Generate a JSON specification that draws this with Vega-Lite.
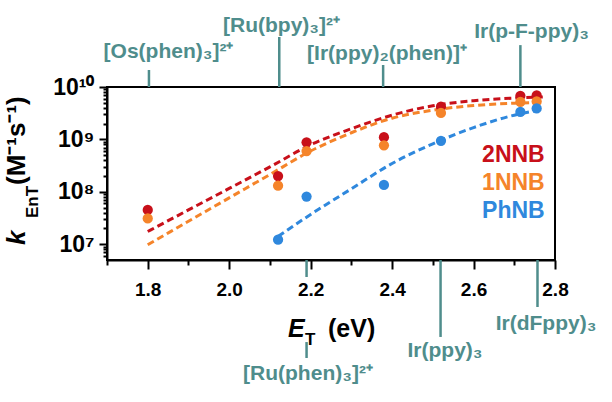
{
  "$schema": "https://vega.github.io/schema/vega-lite/v6.json",
  "width": 448,
  "height": 173,
  "autosize": {"type": "none"},
  "padding": {"left": 107, "top": 87, "right": 57, "bottom": 142},
  "config": {
    "view": {"stroke": "black", "strokeWidth": 2},
    "font": "Liberation Sans",
    "axis": {
      "domainColor": "black",
      "domainWidth": 2,
      "tickColor": "black",
      "tickWidth": 2,
      "grid": false,
      "labelFont": "Liberation Sans",
      "labelFontWeight": "bold",
      "labelColor": "black",
      "labelOverlap": false,
      "labelFlush": false
    },
    "text": {"font": "Liberation Sans", "fontWeight": "bold", "baseline": "alphabetic"}
  },
  "data": {"values": [{}]},
  "datasets": {
    "measured": [
      {"sys": "2NNB", "et": 1.8, "k": 4.5e7},
      {"sys": "2NNB", "et": 2.12, "k": 2.0e8},
      {"sys": "2NNB", "et": 2.19, "k": 8.8e8},
      {"sys": "2NNB", "et": 2.38, "k": 1.1e9},
      {"sys": "2NNB", "et": 2.52, "k": 4.2e9},
      {"sys": "2NNB", "et": 2.715, "k": 6.8e9},
      {"sys": "2NNB", "et": 2.755, "k": 6.9e9},
      {"sys": "1NNB", "et": 1.8, "k": 3.1e7},
      {"sys": "1NNB", "et": 2.12, "k": 1.31e8},
      {"sys": "1NNB", "et": 2.19, "k": 6.0e8},
      {"sys": "1NNB", "et": 2.38, "k": 7.7e8},
      {"sys": "1NNB", "et": 2.52, "k": 3.2e9},
      {"sys": "1NNB", "et": 2.715, "k": 5.2e9},
      {"sys": "1NNB", "et": 2.755, "k": 5.3e9},
      {"sys": "PhNB", "et": 2.12, "k": 1.22e7},
      {"sys": "PhNB", "et": 2.19, "k": 8.1e7},
      {"sys": "PhNB", "et": 2.38, "k": 1.35e8},
      {"sys": "PhNB", "et": 2.52, "k": 9.4e8},
      {"sys": "PhNB", "et": 2.715, "k": 3.35e9},
      {"sys": "PhNB", "et": 2.755, "k": 3.9e9}
    ],
    "fits": [
      {"sys": "2NNB", "et": 1.8, "k": 1.75e7},
      {"sys": "2NNB", "et": 1.9, "k": 4.51e7},
      {"sys": "2NNB", "et": 2.0, "k": 1.16e8},
      {"sys": "2NNB", "et": 2.1, "k": 2.99e8},
      {"sys": "2NNB", "et": 2.2, "k": 7.9e8},
      {"sys": "2NNB", "et": 2.3, "k": 1.6e9},
      {"sys": "2NNB", "et": 2.4, "k": 2.9e9},
      {"sys": "2NNB", "et": 2.5, "k": 4.39e9},
      {"sys": "2NNB", "et": 2.6, "k": 5.47e9},
      {"sys": "2NNB", "et": 2.7, "k": 6.15e9},
      {"sys": "2NNB", "et": 2.77, "k": 6.43e9},
      {"sys": "1NNB", "et": 1.8, "k": 9.8e6},
      {"sys": "1NNB", "et": 1.9, "k": 2.74e7},
      {"sys": "1NNB", "et": 2.0, "k": 7.66e7},
      {"sys": "1NNB", "et": 2.1, "k": 2.14e8},
      {"sys": "1NNB", "et": 2.2, "k": 6.0e8},
      {"sys": "1NNB", "et": 2.3, "k": 1.34e9},
      {"sys": "1NNB", "et": 2.4, "k": 2.54e9},
      {"sys": "1NNB", "et": 2.5, "k": 3.61e9},
      {"sys": "1NNB", "et": 2.6, "k": 4.43e9},
      {"sys": "1NNB", "et": 2.7, "k": 4.9e9},
      {"sys": "1NNB", "et": 2.77, "k": 5.07e9},
      {"sys": "PhNB", "et": 2.12, "k": 1.41e7},
      {"sys": "PhNB", "et": 2.2, "k": 3.7e7},
      {"sys": "PhNB", "et": 2.3, "k": 1.14e8},
      {"sys": "PhNB", "et": 2.4, "k": 3.47e8},
      {"sys": "PhNB", "et": 2.5, "k": 8.25e8},
      {"sys": "PhNB", "et": 2.6, "k": 1.68e9},
      {"sys": "PhNB", "et": 2.7, "k": 2.9e9},
      {"sys": "PhNB", "et": 2.77, "k": 3.72e9}
    ]
  },
  "layer": [
    {
      "data": {"name": "fits"},
      "mark": {"type": "line", "strokeDash": [7, 4], "strokeWidth": 3, "interpolate": "monotone"},
      "encoding": {
        "x": {
          "field": "et",
          "type": "quantitative",
          "scale": {"domain": [1.7, 2.8], "nice": false, "zero": false},
          "axis": {
            "title": null,
            "values": [1.7, 1.8, 1.9, 2.0, 2.1, 2.2, 2.3, 2.4, 2.5, 2.6, 2.7, 2.8],
            "labelExpr": "round(datum.value * 10) % 2 == 0 ? format(datum.value, '.1f') : ''",
            "tickSize": {"condition": {"test": "round(datum.value * 10) % 2 == 0", "value": 9}, "value": 5},
            "labelFontSize": 19,
            "labelPadding": 11
          }
        },
        "y": {
          "field": "k",
          "type": "quantitative",
          "scale": {"type": "log", "domain": [5e6, 1e10], "nice": false},
          "axis": {
            "title": null,
            "values": [6e6, 7e6, 8e6, 9e6, 1e7, 2e7, 3e7, 4e7, 5e7, 6e7, 7e7, 8e7, 9e7, 1e8, 2e8, 3e8, 4e8, 5e8, 6e8, 7e8, 8e8, 9e8, 1e9, 2e9, 3e9, 4e9, 5e9, 6e9, 7e9, 8e9, 9e9, 1e10],
            "labelExpr": "datum.value == 1e10 ? '10¹⁰' : datum.value == 1e9 ? '10⁹' : datum.value == 1e8 ? '10⁸' : datum.value == 1e7 ? '10⁷' : ''",
            "tickSize": {"condition": {"test": "indexof([1e7, 1e8, 1e9, 1e10], datum.value) >= 0", "value": 8}, "value": 4},
            "labelFontSize": 23,
            "labelPadding": 5
          }
        },
        "color": {
          "field": "sys",
          "type": "nominal",
          "scale": {"domain": ["2NNB", "1NNB", "PhNB"], "range": ["#c8101a", "#f5842a", "#2f88dd"]},
          "legend": null
        }
      }
    },
    {
      "data": {"name": "measured"},
      "mark": {"type": "circle", "size": 105, "opacity": 1},
      "encoding": {
        "x": {"field": "et", "type": "quantitative"},
        "y": {"field": "k", "type": "quantitative"},
        "color": {"field": "sys", "type": "nominal", "legend": null}
      }
    },
    {
      "mark": {"type": "text", "fontSize": 23, "align": "left"},
      "encoding": {"x": {"datum": 2.621}, "y": {"datum": 3.76e8}, "text": {"value": "2NNB"}, "color": {"datum": "2NNB", "legend": null}}
    },
    {
      "mark": {"type": "text", "fontSize": 23, "align": "left"},
      "encoding": {"x": {"datum": 2.621}, "y": {"datum": 1.08e8}, "text": {"value": "1NNB"}, "color": {"datum": "1NNB", "legend": null}}
    },
    {
      "mark": {"type": "text", "fontSize": 23, "align": "left"},
      "encoding": {"x": {"datum": 2.621}, "y": {"datum": 3.21e7}, "text": {"value": "PhNB"}, "color": {"datum": "PhNB", "legend": null}}
    },
    {
      "mark": {"type": "rule", "color": "#4f8d8c", "strokeWidth": 2.5},
      "encoding": {"x": {"datum": 1.803}, "y": {"datum": 1e10}, "y2": {"datum": 2.11e10}}
    },
    {
      "mark": {"type": "rule", "color": "#4f8d8c", "strokeWidth": 2.5},
      "encoding": {"x": {"datum": 2.123}, "y": {"datum": 1e10}, "y2": {"datum": 9.0e10}}
    },
    {
      "mark": {"type": "rule", "color": "#4f8d8c", "strokeWidth": 2.5},
      "encoding": {"x": {"datum": 2.378}, "y": {"datum": 1e10}, "y2": {"datum": 2.63e10}}
    },
    {
      "mark": {"type": "rule", "color": "#4f8d8c", "strokeWidth": 2.5},
      "encoding": {"x": {"datum": 2.715}, "y": {"datum": 1e10}, "y2": {"datum": 6.3e10}}
    },
    {
      "mark": {"type": "rule", "color": "#4f8d8c", "strokeWidth": 2.5},
      "encoding": {"x": {"datum": 2.19}, "y": {"datum": 5e6}, "y2": {"datum": 2.37e6}}
    },
    {
      "mark": {"type": "rule", "color": "#4f8d8c", "strokeWidth": 2.5},
      "encoding": {"x": {"datum": 2.19}, "y": {"datum": 1.36e5}, "y2": {"datum": 6.75e4}}
    },
    {
      "mark": {"type": "rule", "color": "#4f8d8c", "strokeWidth": 2.5},
      "encoding": {"x": {"datum": 2.519}, "y": {"datum": 5e6}, "y2": {"datum": 1.7e5}}
    },
    {
      "mark": {"type": "rule", "color": "#4f8d8c", "strokeWidth": 2.5},
      "encoding": {"x": {"datum": 2.757}, "y": {"datum": 5e6}, "y2": {"datum": 6.34e5}}
    },
    {
      "mark": {"type": "text", "fontSize": 21, "color": "#4f8d8c", "align": "center"},
      "encoding": {"x": {"datum": 1.851}, "y": {"datum": 3.57e10}, "text": {"value": "[Os(phen)₃]²⁺"}}
    },
    {
      "mark": {"type": "text", "fontSize": 21, "color": "#4f8d8c", "align": "center"},
      "encoding": {"x": {"datum": 2.1285}, "y": {"datum": 1.12e11}, "text": {"value": "[Ru(bpy)₃]²⁺"}}
    },
    {
      "mark": {"type": "text", "fontSize": 21, "color": "#4f8d8c", "align": "center"},
      "encoding": {"x": {"datum": 2.3875}, "y": {"datum": 3.27e10}, "text": {"value": "[Ir(ppy)₂(phen)]⁺"}}
    },
    {
      "mark": {"type": "text", "fontSize": 21, "color": "#4f8d8c", "align": "center"},
      "encoding": {"x": {"datum": 2.7423}, "y": {"datum": 8.61e10}, "text": {"value": "Ir(p-F-ppy)₃"}}
    },
    {
      "mark": {"type": "text", "fontSize": 21, "color": "#4f8d8c", "align": "center"},
      "encoding": {"x": {"datum": 2.1935}, "y": {"datum": 2.56e4}, "text": {"value": "[Ru(phen)₃]²⁺"}}
    },
    {
      "mark": {"type": "text", "fontSize": 21, "color": "#4f8d8c", "align": "center"},
      "encoding": {"x": {"datum": 2.53}, "y": {"datum": 7.05e4}, "text": {"value": "Ir(ppy)₃"}}
    },
    {
      "mark": {"type": "text", "fontSize": 21, "color": "#4f8d8c", "align": "center"},
      "encoding": {"x": {"datum": 2.778}, "y": {"datum": 2.31e5}, "text": {"value": "Ir(dFppy)₃"}}
    },
    {
      "mark": {"type": "text", "fontSize": 25, "fontStyle": "italic", "align": "left", "color": "black"},
      "encoding": {"x": {"datum": 2.1444}, "y": {"datum": 1.7e5}, "text": {"value": "E"}}
    },
    {
      "mark": {"type": "text", "fontSize": 17, "align": "left", "color": "black"},
      "encoding": {"x": {"datum": 2.1862}, "y": {"datum": 1.19e5}, "text": {"value": "T"}}
    },
    {
      "mark": {"type": "text", "fontSize": 25, "align": "left", "color": "black"},
      "encoding": {"x": {"datum": 2.2426}, "y": {"datum": 1.7e5}, "text": {"value": "(eV)"}}
    },
    {
      "mark": {"type": "text", "fontSize": 26, "fontStyle": "italic", "align": "left", "angle": 270, "color": "black"},
      "encoding": {"x": {"datum": 1.4987}, "y": {"datum": 9.67e6}, "text": {"value": "k"}}
    },
    {
      "mark": {"type": "text", "fontSize": 17, "align": "left", "angle": 270, "color": "black"},
      "encoding": {"x": {"datum": 1.5306}, "y": {"datum": 3.16e7}, "text": {"value": "EnT"}}
    },
    {
      "mark": {"type": "text", "fontSize": 26, "align": "left", "angle": 270, "color": "black"},
      "encoding": {"x": {"datum": 1.4987}, "y": {"datum": 1.35e8}, "text": {"value": "(M⁻¹s⁻¹)"}}
    }
  ]
}
